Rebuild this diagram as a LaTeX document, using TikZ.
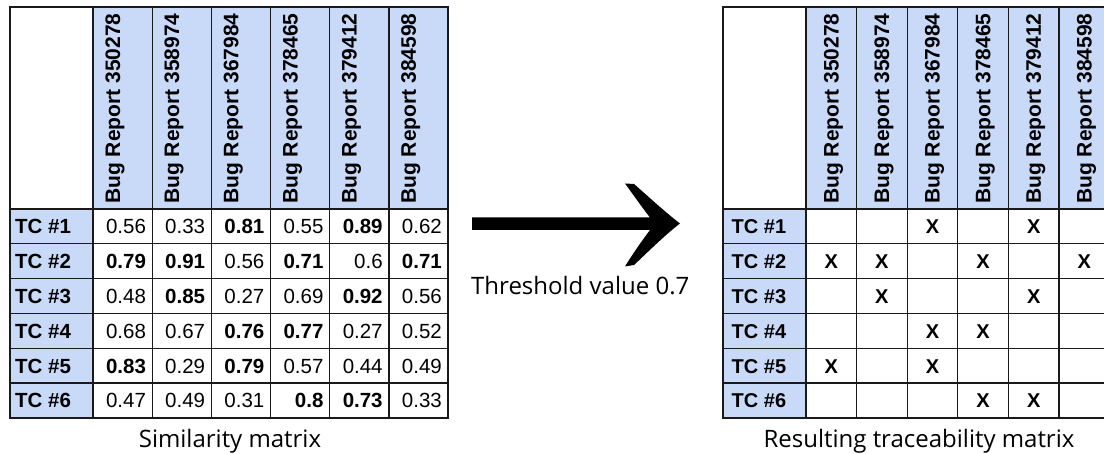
\documentclass[tikz,border=0pt]{standalone}
\usepackage{fontspec}
\setmainfont{Liberation Sans}
\newfontfamily\capfont{Open Sans}
\definecolor{hdrblue}{HTML}{C9DAF8}
\definecolor{gridcol}{HTML}{1A1A1A}
\tikzset{
  hdrfill/.style={fill=hdrblue},
  gridline/.style={draw=gridcol, line width=1.3pt},
  outerline/.style={draw=gridcol, line width=2pt},
  num/.style={anchor=base east, inner sep=0pt, font=\fontsize{20.5}{24}\selectfont},
  rowlab/.style={anchor=base west, inner sep=0pt, font=\bfseries\fontsize{20.5}{24}\selectfont},
  colhead/.style={anchor=base west, rotate=90, inner sep=0pt, font=\bfseries\fontsize{21}{24}\selectfont},
  xmark/.style={anchor=base, inner sep=0pt, font=\bfseries\fontsize{20}{24}\selectfont},
  captext/.style={anchor=base, inner sep=0pt, font=\capfont\fontsize{24}{28}\selectfont},
  bigarrow/.style={fill=black},
}
\begin{document}
\begin{tikzpicture}[x=1pt,y=-1pt]
\useasboundingbox (0,0) rectangle (1104,454);
\clip (0,0) rectangle (1104,454);

% ---------------- Left table: similarity matrix ----------------
\def\lw{59.17}
\def\rh{34.83}
\fill[hdrfill] (93,7) rectangle (448,209);
\fill[hdrfill] (10,209) rectangle (93,418);
\foreach \k in {0,...,5} {
  \draw[gridline] ({93+\k*\lw},7) -- ({93+\k*\lw},418);
  \draw[gridline] (10,{209+\k*\rh}) -- (448,{209+\k*\rh});
}
\draw[outerline] (10,7) rectangle (448,418);

\foreach \t [count=\c] in {350278,358974,367984,378465,379412,384598}
  \node[colhead] (LH-\c) at ({93+(\c-1)*\lw+27},204) {Bug Report \t};
\foreach \r in {1,...,6}
  \node[rowlab] (LR-\r) at (15,{209+(\r-0.5)*\rh+7.4}) {TC \#\r};

\newcommand\leftrow[2]{%
  \foreach \v [count=\c] in {#2}
    \node[num] (L-#1-\c) at ({93+\c*\lw-6},{209+(#1-0.5)*\rh+7.4}) {\v};}
\leftrow{1}{0.56,0.33,\textbf{0.81},0.55,\textbf{0.89},0.62}
\leftrow{2}{\textbf{0.79},\textbf{0.91},0.56,\textbf{0.71},0.6,\textbf{0.71}}
\leftrow{3}{0.48,\textbf{0.85},0.27,0.69,\textbf{0.92},0.56}
\leftrow{4}{0.68,0.67,\textbf{0.76},\textbf{0.77},0.27,0.52}
\leftrow{5}{\textbf{0.83},0.29,\textbf{0.79},0.57,0.44,0.49}
\leftrow{6}{0.47,0.49,0.31,\textbf{0.8},\textbf{0.73},0.33}

\node[captext] (capL) at (230,447) {Similarity matrix};

% ---------------- Arrow ----------------
\coordinate (arrS) at (472,224);
\coordinate (arrT) at (680,223.5);
\fill[bigarrow] (472,217.5) -- (650,217.5)
  .. controls (641,206) and (632,193) .. (625,183.5)
  -- (634,184)
  .. controls (650,198) and (665,212) .. (arrT)
  .. controls (665,235) and (650,250) .. (634,265)
  -- (625,266.5)
  .. controls (632,255) and (641,242) .. (650,230)
  -- (472,230) -- cycle;
\node[captext, anchor=base west] (thr) at (471,295) {Threshold value 0.7};

% ---------------- Right table: traceability matrix ----------------
\def\rw{50.6}
\fill[hdrfill] (806,7) rectangle (1112,209);
\fill[hdrfill] (722.7,209) rectangle (806,418);
\foreach \k in {0,...,5} {
  \draw[gridline] ({806+\k*\rw},7) -- ({806+\k*\rw},418);
  \draw[gridline] (722.7,{209+\k*\rh}) -- (1112,{209+\k*\rh});
}
\draw[outerline] (722.7,7) rectangle (1109.6,418);

\foreach \t [count=\c] in {350278,358974,367984,378465,379412,384598}
  \node[colhead] (RH-\c) at ({806+(\c-1)*\rw+32.5},204) {Bug Report \t};
\foreach \r in {1,...,6}
  \node[rowlab, font=\bfseries\fontsize{20}{24}\selectfont] (RR-\r) at (731.5,{209+(\r-0.5)*\rh+7.3}) {TC \#\r};

\foreach \r/\cols in {1/{3,5},2/{1,2,4,6},3/{2,5},4/{3,4},5/{1,3},6/{4,5}} {
  \foreach \c in \cols
    \node[xmark] (R-\r-\c) at ({806+(\c-0.5)*\rw},{209+(\r-0.5)*\rh+7.3}) {X};
}

\node[captext] (capR) at (919,447) {Resulting traceability matrix};
\end{tikzpicture}
\end{document}
